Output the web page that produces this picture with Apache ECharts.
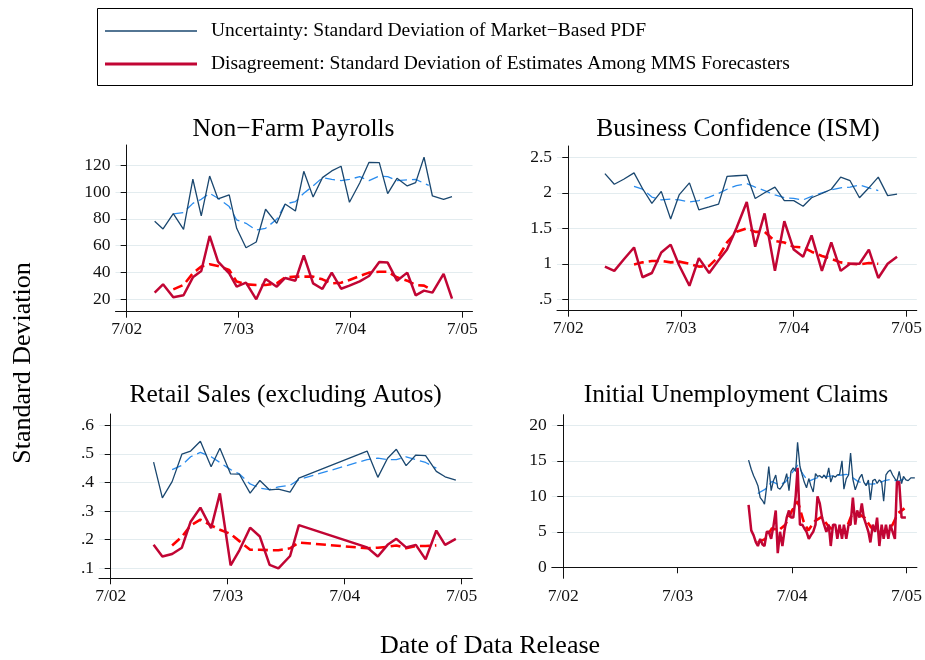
<!DOCTYPE html>
<html><head><meta charset="utf-8">
<script src="https://cdn.jsdelivr.net/npm/echarts@6/dist/echarts.min.js"></script>
<style>html,body{margin:0;padding:0;background:#fff}#c{width:925px;height:660px}</style>
</head><body><div id="c"></div>
<script>
// ---------- DATA (x = months since July 2002) ----------
const xTickValues = [0, 12, 24, 36];
const xTickLabels = ['7/02', '7/03', '7/04', '7/05'];

const panelTitles = ['Non\u2212Farm Payrolls', 'Business Confidence (ISM)', 'Retail Sales (excluding Autos)', 'Initial Unemployment Claims'];
const legendLabels = ['Uncertainty: Standard Deviation of Market\u2212Based PDF', 'Disagreement: Standard Deviation of Estimates Among MMS Forecasters'];
const yAxisTitle = 'Standard Deviation';
const xAxisTitle = 'Date of Data Release';

const nfpYTicks = [20, 40, 60, 80, 100, 120];
const nfpDates = [3.0, 3.9, 5.0, 6.1, 7.1, 8.0, 8.9, 9.8, 11.0, 11.8, 12.8, 13.9, 14.9, 16.1, 17.0, 18.1, 19.0, 20.0, 21.0, 22.0, 23.0, 23.9, 25.0, 26.0, 27.1, 28.0, 29.0, 30.1, 31.0, 31.9, 32.8, 34.0, 34.9];
const nfpUnc = [78.2, 72.5, 83.9, 72.2, 109.6, 82.2, 112, 94.9, 97.9, 73, 58.5, 62.8, 87.2, 76.7, 91.1, 85.9, 115.5, 96.4, 110.8, 115.8, 119.3, 92.4, 106.8, 122.2, 122, 98.9, 110.3, 104.6, 107.1, 126, 97.1, 94.6, 96.6];
const nfpDis = [25, 31.2, 21.5, 23, 36.4, 41.1, 67.3, 48.1, 39.4, 29.4, 32.4, 20, 35.2, 29.4, 35.9, 33.9, 52.8, 31.9, 27.7, 39.9, 27.9, 30.2, 33.4, 37.4, 47.8, 47.4, 33.9, 39.9, 23, 26.5, 25, 39, 20.5];
const nfpSmoothDates = [5.0, 6.1, 7.1, 8.0, 8.9, 9.8, 11.0, 11.8, 12.8, 13.9, 14.9, 16.1, 17.0, 18.1, 19.0, 20.0, 21.0, 22.0, 23.0, 23.9, 25.0, 26.0, 27.1, 28.0, 29.0, 30.1, 31.0, 31.9, 32.4];
const nfpUncSmooth = [83.7, 84.7, 91.6, 94.6, 99.1, 95.4, 89.2, 79.2, 76.7, 71.7, 73.0, 79.7, 91.1, 92.9, 99.1, 104.6, 110.8, 109.5, 108.6, 109.5, 111.5, 108.6, 112.0, 111.5, 108.6, 109.1, 109.5, 106.6, 105.0];
const nfpDisSmooth = [27.4, 30.7, 39.4, 44.4, 46.1, 44.9, 41.9, 33.2, 31.2, 30.7, 30.7, 31.9, 36.4, 36.9, 36.9, 36.9, 34.9, 31.9, 32.4, 34.4, 37.4, 39.9, 40.6, 40.6, 36.4, 33.9, 30.7, 30.2, 28.2];

const ismYTicks = [0.5, 1, 1.5, 2, 2.5];
const ismDates = [3.9, 4.9, 5.9, 7.0, 7.9, 8.9, 9.9, 10.9, 11.8, 12.9, 13.9, 15.0, 16.0, 16.9, 17.9, 19.0, 19.9, 20.9, 22.0, 23.0, 24.0, 25.0, 25.9, 27.0, 28.0, 29.0, 30.0, 31.0, 32.0, 33.0, 34.0, 35.0];
const ismUnc = [2.27, 2.12, 2.19, 2.28, 2.06, 1.85, 2.02, 1.63, 1.97, 2.14, 1.76, 1.80, 1.84, 2.23, 2.24, 2.25, 1.92, 2.00, 2.08, 1.89, 1.89, 1.81, 1.93, 1.99, 2.05, 2.22, 2.17, 1.93, 2.07, 2.22, 1.96, 1.98];
const ismDis = [0.96, 0.90, 1.06, 1.23, 0.81, 0.87, 1.16, 1.27, 0.98, 0.69, 1.08, 0.87, 1.05, 1.20, 1.50, 1.87, 1.24, 1.71, 0.90, 1.60, 1.20, 1.10, 1.40, 0.90, 1.30, 0.90, 1.00, 1.00, 1.20, 0.80, 1.00, 1.10];
const ismSmoothDates = [7.0, 7.9, 8.9, 9.9, 10.9, 11.8, 12.9, 13.9, 15.0, 16.0, 16.9, 17.9, 19.0, 19.9, 20.9, 22.0, 23.0, 24.0, 25.0, 25.9, 27.0, 28.0, 29.0, 30.0, 31.0, 32.0, 33.0];
const ismUncSmooth = [2.09, 2.05, 1.94, 1.90, 1.91, 1.90, 1.87, 1.89, 1.94, 1.99, 2.05, 2.10, 2.13, 2.08, 2.03, 1.97, 1.93, 1.92, 1.90, 1.95, 2.00, 2.04, 2.07, 2.08, 2.11, 2.07, 2.03];
const ismDisSmooth = [0.99, 1.02, 1.04, 1.04, 1.02, 1.03, 1.00, 0.96, 0.97, 1.10, 1.30, 1.45, 1.50, 1.45, 1.45, 1.32, 1.30, 1.24, 1.23, 1.17, 1.11, 1.07, 1.02, 1.00, 0.99, 1.01, 1.00];

const rsYTicks = [0.1, 0.2, 0.3, 0.4, 0.5, 0.6];
const rsDates = [4.4, 5.3, 6.3, 7.3, 8.2, 9.2, 10.3, 11.2, 12.3, 13.2, 14.3, 15.3, 16.3, 17.2, 18.4, 19.3, 26.3, 27.4, 28.4, 29.3, 30.3, 31.3, 32.3, 33.4, 34.3, 35.4];
const rsUnc = [0.471, 0.346, 0.403, 0.499, 0.51, 0.544, 0.455, 0.52, 0.43, 0.429, 0.363, 0.407, 0.374, 0.377, 0.366, 0.415, 0.51, 0.418, 0.485, 0.516, 0.459, 0.496, 0.494, 0.439, 0.42, 0.408];
const rsDis = [0.182, 0.141, 0.15, 0.172, 0.263, 0.312, 0.24, 0.362, 0.11, 0.163, 0.242, 0.211, 0.112, 0.1, 0.143, 0.251, 0.173, 0.141, 0.182, 0.203, 0.173, 0.182, 0.131, 0.232, 0.182, 0.203];
const rsSmoothDates = [6.3, 7.3, 8.2, 9.2, 10.3, 11.2, 12.3, 13.2, 14.3, 15.3, 16.3, 17.2, 18.4, 19.3, 26.3, 27.4, 28.4, 29.3, 30.3, 31.3, 32.3, 33.4];
const rsUncSmooth = [0.445, 0.46, 0.49, 0.505, 0.49, 0.47, 0.445, 0.43, 0.395, 0.38, 0.375, 0.385, 0.39, 0.41, 0.48, 0.485, 0.48, 0.48, 0.49, 0.48, 0.47, 0.45];
const rsDisSmooth = [0.18, 0.21, 0.25, 0.27, 0.25, 0.235, 0.22, 0.195, 0.165, 0.165, 0.163, 0.163, 0.17, 0.19, 0.17, 0.172, 0.175, 0.18, 0.17, 0.178, 0.178, 0.18];

const icYTicks = [0, 5, 10, 15, 20];
const icDates = [19.44, 19.72, 19.97, 20.21, 20.42, 20.66, 20.90, 21.11, 21.35, 21.56, 21.81, 22.05, 22.29, 22.50, 22.74, 22.99, 23.19, 23.44, 23.68, 23.89, 24.13, 24.38, 24.58, 24.83, 25.07, 25.28, 25.52, 25.76, 25.97, 26.22, 26.46, 26.67, 26.91, 27.15, 27.36, 27.60, 27.85, 28.06, 28.30, 28.54, 28.75, 28.99, 29.24, 29.44, 29.69, 29.93, 30.14, 30.38, 30.63, 30.83, 31.08, 31.32, 31.53, 31.77, 32.01, 32.22, 32.47, 32.71, 32.92, 33.16, 33.40, 33.61, 33.85, 34.10, 34.31, 34.55, 34.79, 35.00, 35.24, 35.49, 35.69, 35.94, 36.18, 36.46, 36.88];
const icUnc = [15.1, 13.8, 12.9, 12.2, 11.5, 9.8, 9.4, 8.9, 11.5, 14.2, 10.8, 12.2, 13.0, 11.2, 11.0, 11.5, 12.0, 13.2, 10.8, 13.5, 14.0, 13.5, 17.6, 14.2, 13.0, 12.0, 11.2, 12.5, 11.5, 10.6, 13.2, 12.8, 12.9, 12.6, 13.0, 12.5, 14.0, 12.0, 12.9, 12.7, 13.0, 13.1, 15.0, 11.0, 12.5, 13.0, 16.1, 12.4, 10.9, 10.8, 12.6, 13.1, 12.0, 11.5, 12.3, 9.5, 12.2, 12.4, 11.8, 12.3, 12.0, 9.3, 13.0, 13.5, 13.7, 13.0, 12.5, 12.1, 13.5, 11.8, 12.8, 12.3, 12.2, 12.6, 12.6];
const icDis = [8.8, 5.2, 4.5, 3.5, 3.0, 4.0, 3.2, 3.0, 5.0, 5.0, 4.0, 5.8, 8.0, 2.0, 5.0, 3.0, 5.0, 7.0, 8.0, 7.0, 7.0, 10.0, 14.0, 6.0, 6.0, 5.5, 5.0, 4.0, 4.5, 5.0, 6.0, 10.0, 9.0, 7.0, 6.0, 5.0, 6.0, 3.0, 6.0, 6.0, 4.0, 6.0, 4.0, 6.0, 4.0, 6.0, 6.0, 9.8, 6.0, 8.0, 7.0, 9.0, 7.0, 6.0, 5.0, 3.5, 6.0, 5.0, 7.0, 3.0, 6.0, 4.0, 6.0, 4.0, 6.0, 5.0, 4.0, 12.0, 12.0, 7.0, 7.0, 7.0, null, null, null];
const icSmoothDates = [20.4, 21.2, 21.9, 22.6, 23.3, 24.0, 24.6, 25.2, 25.7, 26.4, 27.1, 27.8, 28.5, 29.2, 29.7, 30.2, 30.9, 31.6, 32.3, 33.0, 33.7, 34.4, 35.1, 35.8];
const icUncSmooth = [10.4, 11.0, 12.1, 11.6, 12.0, 13.3, 14.4, 13.0, 12.1, 12.5, 12.8, 12.8, 12.9, 13.0, 13.1, 12.8, 12.1, 11.8, 11.7, 11.8, 12.2, 12.4, 12.1, 12.5];
const icDisSmooth = [3.5, 4.0, 5.5, 5.2, 6.0, 8.0, 9.3, 6.5, 5.2, 6.5, 7.1, 5.8, 5.0, 5.2, 5.5, 7.2, 7.6, 7.0, 5.6, 5.2, 4.9, 5.6, 7.6, 8.3];

// ---------- STYLE ----------
const FONT = '"Liberation Serif", "Times New Roman", serif';
const C_UNC = '#1a476f', C_UNC_S = '#2a8cee', C_DIS = '#c10534', C_DIS_S = '#ff0000';

const panels = [
  { grid: {left: 115.5, top: 145, width: 357, height: 166.7}, ymin: 10.75, ymax: 135.15, yTicks: nfpYTicks,
    d: nfpDates, u: nfpUnc, r: nfpDis, sd: nfpSmoothDates, us: nfpUncSmooth, rs: nfpDisSmooth, tx: 293.5, ty: 129 },
  { grid: {left: 557, top: 146, width: 362, height: 164.7}, ymin: 0.339, ymax: 2.659, yTicks: ismYTicks,
    d: ismDates, u: ismUnc, r: ismDis, sd: ismSmoothDates, us: ismUncSmooth, rs: ismDisSmooth, tx: 738, ty: 129 },
  { grid: {left: 99, top: 414, width: 373.4, height: 164.3}, ymin: 0.065, ymax: 0.6395, yTicks: rsYTicks,
    d: rsDates, u: rsUnc, r: rsDis, sd: rsSmoothDates, us: rsUncSmooth, rs: rsDisSmooth, tx: 285.7, ty: 395 },
  { grid: {left: 551.8, top: 414.7, width: 368, height: 163.6}, ymin: -1.55, ymax: 21.49, yTicks: icYTicks,
    d: icDates, u: icUnc, r: icDis, sd: icSmoothDates, us: icUncSmooth, rs: icDisSmooth, tx: 736, ty: 395 }
];

function pairs(xs, ys) { return xs.map((x, i) => [x, ys[i]]); }
function fmtY(v) { let s = String(+v.toFixed(3)); return s.replace(/^0\./, '.'); }

const grids = [], xAxes = [], yAxes = [], series = [], graphics = [];
panels.forEach((p, i) => {
  grids.push(p.grid);
  xAxes.push({
    type: 'value', gridIndex: i, min: -1.2, max: 37.1,
    axisLine: {show: true, lineStyle: {color: '#111', width: 1}},
    axisTick: {show: true, length: 6, customValues: xTickValues, lineStyle: {color: '#111'}},
    axisLabel: {customValues: xTickValues, formatter: v => xTickLabels[xTickValues.indexOf(Math.round(v))] || '',
      fontFamily: FONT, fontSize: 17.5, color: '#111', margin: 9},
    splitLine: {show: false}
  });
  yAxes.push({
    type: 'value', gridIndex: i, min: p.ymin, max: p.ymax,
    axisLine: {show: true, lineStyle: {color: '#111', width: 1}},
    axisTick: {show: true, length: 6, customValues: p.yTicks, lineStyle: {color: '#111'}},
    axisLabel: {customValues: p.yTicks, formatter: fmtY, fontFamily: FONT, fontSize: 17.5, color: '#111', margin: 5},
    splitLine: {show: true, lineStyle: {color: '#e3ecef', width: 1.2}}
  });
  const base = {type: 'line', xAxisIndex: i, yAxisIndex: i, showSymbol: false, symbol: 'none', animation: false, silent: true, connectNulls: false};
  series.push(Object.assign({}, base, {data: pairs(p.sd, p.us), lineStyle: {color: C_UNC_S, width: 1.3, type: [10, 5]}, z: 3}));
  series.push(Object.assign({}, base, {data: pairs(p.d, p.u), lineStyle: {color: C_UNC, width: 1.3}, z: 4}));
  series.push(Object.assign({}, base, {data: pairs(p.sd, p.rs), lineStyle: {color: C_DIS_S, width: 2.6, type: [10, 5]}, z: 5}));
  series.push(Object.assign({}, base, {data: pairs(p.d, p.r), lineStyle: {color: C_DIS, width: 2.5}, z: 6}));
  graphics.push({type: 'text', x: p.tx, y: p.ty, style: {text: panelTitles[i], font: '25.5px ' + FONT, fill: '#000', align: 'center', verticalAlign: 'middle'}});
});

// legend box
graphics.push({type: 'rect', shape: {x: 97.5, y: 8.5, width: 815, height: 77}, style: {fill: '#fff', stroke: '#000', lineWidth: 1}});
graphics.push({type: 'line', shape: {x1: 105, y1: 31, x2: 197, y2: 31}, style: {stroke: C_UNC, lineWidth: 1.5}});
graphics.push({type: 'line', shape: {x1: 105, y1: 64, x2: 197, y2: 64}, style: {stroke: C_DIS, lineWidth: 3}});
graphics.push({type: 'text', x: 211, y: 31, style: {text: legendLabels[0], font: '19.5px ' + FONT, fill: '#000', align: 'left', verticalAlign: 'middle'}});
graphics.push({type: 'text', x: 211, y: 64, style: {text: legendLabels[1], font: '19.5px ' + FONT, fill: '#000', align: 'left', verticalAlign: 'middle'}});
// axis titles
graphics.push({type: 'text', x: 23, y: 363, rotation: Math.PI / 2, style: {text: yAxisTitle, font: '26px ' + FONT, fill: '#000', align: 'center', verticalAlign: 'middle'}});
graphics.push({type: 'text', x: 490, y: 646, style: {text: xAxisTitle, font: '26px ' + FONT, fill: '#000', align: 'center', verticalAlign: 'middle'}});

const chart = echarts.init(document.getElementById('c'), null, {renderer: 'canvas'});
chart.setOption({
  animation: false, backgroundColor: '#fff',
  grid: grids, xAxis: xAxes, yAxis: yAxes, series: series, graphic: graphics
});
</script></body></html>
